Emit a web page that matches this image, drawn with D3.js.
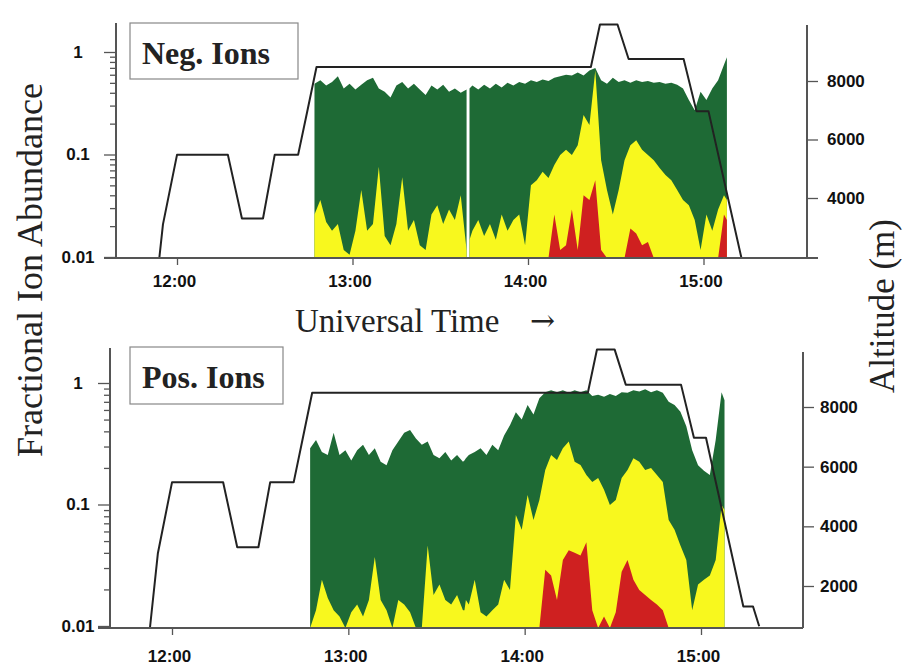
<!DOCTYPE html>
<html><head><meta charset="utf-8">
<script src="https://cdn.jsdelivr.net/npm/d3@7"></script>
<style>body{margin:0;background:#fff}svg{display:block}</style>
</head><body><svg id="c" width="904" height="666"></svg>
<script>
// ---- data (time in minutes after 12:00 UT) ----
const minutes = [47,49,51,53,55,57,59,61,63,65,67,69,71,73,75,77,79,81,83,85,87,89,91,93,95,97,99,99.5,100,
  101,103,105,107,109,111,113,115,117,119,121,123,125,127,129,131,133,135,137,139,141,143,145,147,149,151,153,155,157,159,
  161,163,165,167,169,171,173,175,177,179,181,183,185,187,188];

const negGreen = [0.49,0.53,0.47,0.51,0.58,0.44,0.49,0.43,0.48,0.53,0.56,0.44,0.41,0.36,0.47,0.51,0.44,0.49,0.43,0.38,0.47,0.43,0.48,0.41,0.44,0.40,0.43,null,0.44,
  0.47,0.43,0.48,0.44,0.49,0.45,0.50,0.47,0.51,0.49,0.53,0.51,0.54,0.52,0.56,0.58,0.60,0.59,0.63,0.59,0.66,0.70,0.53,0.49,0.56,0.51,0.53,0.50,0.53,0.51,
  0.52,0.50,0.51,0.49,0.50,0.48,0.44,0.34,0.27,0.41,0.34,0.44,0.53,0.75,0.89];
const negYellow = [0.026,0.036,0.022,0.018,0.021,0.0117,0.0105,0.018,0.045,0.018,0.021,0.076,0.016,0.013,0.021,0.060,0.018,0.023,0.013,0.0117,0.026,0.032,0.021,0.029,0.023,0.040,0.0117,null,0.0147,
  0.018,0.023,0.016,0.021,0.0147,0.026,0.018,0.023,0.026,0.013,0.05,0.056,0.068,0.059,0.079,0.099,0.111,0.099,0.123,0.243,0.194,0.66,0.088,0.045,0.026,0.045,0.088,0.123,0.138,0.111,
  0.099,0.088,0.074,0.063,0.056,0.045,0.036,0.032,0.023,0.0117,0.026,0.018,0.029,0.040,0.036];
const negRed = [0,0,0,0,0,0,0,0,0,0,0,0,0,0,0,0,0,0,0,0,0,0,0,0,0,0,0,null,0,
  0,0,0,0,0,0,0,0,0,0,0,0,0,0,0.026,0.0117,0.013,0.029,0.0117,0.040,0.036,0.056,0.0117,0,0,0,0,0.019,0.017,0.013,
  0.014,0,0,0,0,0,0,0,0,0,0,0,0,0.026,0.023];

const posGreen = [0.29,0.34,0.27,0.255,0.39,0.255,0.28,0.23,0.28,0.31,0.255,0.29,0.225,0.21,0.28,0.33,0.39,0.41,0.35,0.31,0.33,0.255,0.24,0.27,0.23,0.255,0.225,0.23,0.24,
  0.255,0.27,0.29,0.255,0.31,0.28,0.37,0.45,0.575,0.50,0.66,0.55,0.75,0.84,0.87,0.84,0.87,0.83,0.87,0.84,0.87,0.78,0.80,0.77,0.81,0.78,0.84,0.83,0.87,0.85,
  0.89,0.84,0.87,0.83,0.70,0.66,0.58,0.44,0.28,0.21,0.19,0.175,0.34,0.84,0.72];
const posYellow = [0,0.0135,0.024,0.017,0.0135,0.012,0,0.013,0.015,0.012,0.0164,0.037,0.0164,0.0135,0,0.0164,0.015,0.013,0,0,0.046,0.018,0.022,0.0164,0.015,0.018,0.0135,0.0135,0.0164,
  0.015,0.024,0.013,0.012,0.0135,0.015,0.024,0.0198,0.082,0.062,0.12,0.0745,0.109,0.192,0.255,0.232,0.29,0.33,0.225,0.211,0.175,0.153,0.165,0.132,0.099,0.109,0.165,0.192,0.24,0.225,
  0.192,0.20,0.175,0.153,0.0745,0.062,0.046,0.035,0.0135,0.022,0.024,0.026,0.035,0.099,0.09];
const posRed = [0,0,0,0,0,0,0,0,0,0,0,0,0,0,0,0,0,0,0,0,0,0,0,0,0,0,0,0,0,
  0,0,0,0,0,0,0,0,0,0,0,0,0,0.029,0.026,0.0164,0.035,0.042,0.040,0.038,0.049,0.0135,0,0.012,0,0.013,0.028,0.035,0.024,0.0198,
  0.018,0.0164,0.015,0.0135,0,0,0,0,0,0,0,0,0,0,0];

// aircraft altitude profile
const altMinutes = [-7.5,-4.8,0,17.4,22.2,29.4,33.4,41.4,44.4,47.7,141.5,144.6,150.6,154.4,173.2,177.6,181.7,194.4,197.7,199.8];
const altMeters  = [600,3100,5475,5475,3300,3300,5475,5475,6900,8480,8480,9930,9930,8750,8750,6970,6970,1313,1313,650];

const hourTicks = [0,60,120,180];
const hourLabels = ["12:00","13:00","14:00","15:00"];
const abundanceTicks = [0.01,0.1,1];
const abundanceLabels = ["0.01","0.1","1"];
const altTicksTop = [4000,6000,8000];
const altTicksBottom = [2000,4000,6000,8000];
const panelTitles = ["Neg. Ions","Pos. Ions"];

// ---- drawing ----
const svg = d3.select("#c");
const SANS = "'Liberation Sans', Arial, Helvetica, sans-serif";
const SERIF = "'Liberation Serif', 'Times New Roman', Times, serif";
const GREEN = "#1e6a35", YELLOW = "#f8f81e", RED = "#cf2020", AX = "#555";

const panels = [
  {title:panelTitles[0], green:negGreen, yellow:negYellow, red:negRed,
   left:116, right:807, top:23, rtop:25, bottom:258, bottomExt:11,
   x:d3.scaleLinear().domain([0,180]).range([177,703.5]),
   y:d3.scaleLog().domain([0.01,1]).range([257,52]),
   alt:d3.scaleLinear().domain([4000,8000]).range([198,81]),
   altTicks:altTicksTop, box:{x:130,y:23,w:168,h:56,tx:142,ty:64},
   xLabelY:29, rLabelX:20, lLabelX:78},
  {title:panelTitles[1], green:posGreen, yellow:posYellow, red:posRed,
   left:110, right:803, top:348, rtop:352, bottom:628, bottomExt:0,
   x:d3.scaleLinear().domain([0,180]).range([172,701]),
   y:d3.scaleLog().domain([0.01,1]).range([626,383]),
   alt:d3.scaleLinear().domain([2000,8000]).range([586,407]),
   altTicks:altTicksBottom, box:{x:130,y:347,w:153,h:57,tx:142,ty:388},
   xLabelY:34, rLabelX:17, lLabelX:78}
];

panels.forEach((p,i) => {
  const data = minutes.map((t,k) => ({t, g:p.green[k], yl:p.yellow[k], r:p.red[k]}));
  const clipId = "clip"+i, clipLine = "clipL"+i;
  const defs = svg.append("defs");
  defs.append("clipPath").attr("id",clipId).append("rect")
    .attr("x",p.left).attr("y",p.top).attr("width",p.right-p.left).attr("height",p.bottom-p.top);
  defs.append("clipPath").attr("id",clipLine).append("rect")
    .attr("x",p.left).attr("y",0).attr("width",p.right-p.left).attr("height",p.bottom);

  const yv = v => (v > 0 ? Math.min(p.y(v), p.bottom) : p.bottom);
  const mk = key => d3.area()
    .defined(d => d[key] !== null && d[key] !== undefined)
    .x(d => p.x(d.t)).y0(p.bottom).y1(d => yv(d[key]));

  const plot = svg.append("g").attr("clip-path",`url(#${clipId})`);
  plot.append("path").datum(data).attr("d", mk("g")).attr("fill", GREEN);
  plot.append("path").datum(data).attr("d", mk("yl")).attr("fill", YELLOW);
  plot.append("path").datum(data).attr("d", mk("r")).attr("fill", RED);

  // altitude line
  const altData = altMinutes.map((t,k) => ({t, a:altMeters[k]}));
  svg.append("g").attr("clip-path",`url(#${clipLine})`).append("path").datum(altData)
    .attr("d", d3.line().x(d => p.x(d.t)).y(d => p.alt(d.a)))
    .attr("fill","none").attr("stroke","#222").attr("stroke-width",2).attr("stroke-linejoin","round");

  // axis lines
  svg.append("line").attr("x1",p.left).attr("x2",p.left).attr("y1",p.top).attr("y2",p.bottom)
    .attr("stroke",AX).attr("stroke-width",2);
  svg.append("line").attr("x1",p.right).attr("x2",p.right).attr("y1",p.rtop).attr("y2",p.bottom)
    .attr("stroke",AX).attr("stroke-width",2);
  svg.append("line").attr("x1",p.left-12).attr("x2",p.right+p.bottomExt).attr("y1",p.bottom).attr("y2",p.bottom)
    .attr("stroke",AX).attr("stroke-width",2);

  // left log axis
  const isMajor = d => Math.abs(Math.log10(d) - Math.round(Math.log10(d))) < 1e-6;
  const la = svg.append("g").attr("transform",`translate(${p.left},0)`)
    .call(d3.axisLeft(p.y).tickValues(p.y.ticks()).tickSize(6)
      .tickFormat(d => { const k = abundanceTicks.findIndex(v => Math.abs(v-d) < 1e-9); return k >= 0 ? abundanceLabels[k] : ""; }));
  la.select(".domain").remove();
  la.selectAll(".tick line").attr("stroke",AX).attr("stroke-width",1.3).attr("x2", d => isMajor(d) ? -12 : -6);
  la.selectAll(".tick text").attr("x", p.lLabelX - p.left).attr("text-anchor","middle")
    .attr("font-family",SANS).attr("font-weight","bold").attr("font-size",17).attr("fill","#111");

  // bottom time axis
  const ba = svg.append("g").attr("transform",`translate(0,${p.bottom})`)
    .call(d3.axisBottom(p.x).tickValues(hourTicks).tickSize(7).tickFormat((d,k) => hourLabels[k]));
  ba.select(".domain").remove();
  ba.selectAll(".tick line").attr("stroke",AX).attr("stroke-width",1.3);
  ba.selectAll(".tick text").attr("y",p.xLabelY).attr("dy",0).attr("dx",-3)
    .attr("font-family",SANS).attr("font-weight","bold").attr("font-size",17).attr("fill","#111");

  // right altitude axis
  const ra = svg.append("g").attr("transform",`translate(${p.right},0)`)
    .call(d3.axisRight(p.alt).tickValues(p.altTicks).tickSize(11).tickFormat(d3.format("d")));
  ra.select(".domain").remove();
  ra.selectAll(".tick line").attr("stroke",AX).attr("stroke-width",1.3);
  ra.selectAll(".tick text").attr("x",p.rLabelX).attr("text-anchor","start")
    .attr("font-family",SANS).attr("font-weight","bold").attr("font-size",17).attr("fill","#111");

  // title box
  svg.append("rect").attr("x",p.box.x).attr("y",p.box.y).attr("width",p.box.w).attr("height",p.box.h)
    .attr("fill","#fff").attr("stroke","#888").attr("stroke-width",1.2);
  svg.append("text").attr("x",p.box.tx).attr("y",p.box.ty).text(p.title)
    .attr("font-family",SERIF).attr("font-weight","bold").attr("font-size",32).attr("fill","#222");
});

// axis titles
svg.append("text").attr("transform","translate(42,270) rotate(-90)").attr("text-anchor","middle")
  .attr("font-family",SERIF).attr("font-size",36).attr("fill","#222").text("Fractional Ion Abundance");
svg.append("text").attr("transform","translate(894,306) rotate(-90)").attr("text-anchor","middle")
  .attr("font-family",SERIF).attr("font-size",35).attr("fill","#222").text("Altitude (m)");
svg.append("text").attr("x",295).attr("y",332)
  .attr("font-family",SERIF).attr("font-size",33).attr("fill","#222").text("Universal Time");
svg.append("text").attr("x",530).attr("y",331)
  .attr("font-family","'DejaVu Serif', serif").attr("font-size",30).attr("fill","#222").text("→");
</script>
</body></html>
